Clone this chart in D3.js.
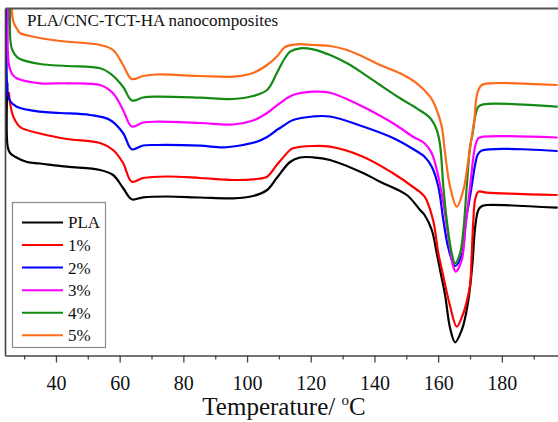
<!DOCTYPE html>
<html><head><meta charset="utf-8">
<script src="https://cdn.jsdelivr.net/npm/d3@7"></script>
<style>
html,body{margin:0;padding:0;background:#fff;}
svg{display:block;}
text{font-family:"Liberation Serif","Times New Roman",serif;fill:#111;}
</style></head>
<body>
<svg id="chart" width="558" height="422"></svg>
<script>
// ---- data (temperature °C, heat flow a.u., endo down) ----
const seriesNames = ["PLA", "1%", "2%", "3%", "4%", "5%"];
const majorTicks = [40, 60, 80, 100, 120, 140, 160, 180];
const minorTicks = [30, 50, 70, 90, 110, 130, 150, 170, 190];
const titleText = "PLA/CNC-TCT-HA nanocomposites";

const pla = [[24.74,272.5],[24.84,208.8],[25.59,202.5],[27.16,198.8],[30.93,193.5],[35.01,192],[43.49,188.8],[53.85,185.5],[57.93,180.5],[61.07,167.5],[63.80,156.2],[67.35,158.2],[74.88,159],[85.24,158],[95.60,157.2],[101.88,159.5],[106.28,165.5],[109.32,177.5],[113.50,193.5],[116.64,198],[120.72,198.2],[126.06,195.5],[136.42,182.5],[141.76,173.8],[150.14,160.5],[154.32,145.5],[155.73,140.5],[157.99,125.5],[159.56,102.2],[160.60,85.5],[162.17,60.5],[163.74,27.5],[165.31,13.2],[167.41,25.5],[168.45,37.5],[169.71,60.5],[170.80,93.5],[171.59,127.5],[172.62,145.5],[173.78,149.5],[175.26,150.5],[197.24,147.8]];
const p1 = [[25.27,262.5],[25.59,252.5],[26.62,238.8],[28.73,228.5],[35.01,222],[43.49,216.5],[53.85,212.5],[57.93,205.5],[61.07,192.5],[63.80,173.8],[67.35,177.5],[74.88,179],[85.24,177.5],[95.60,175.5],[101.88,176.2],[106.28,178.8],[109.32,190.5],[113.50,205.5],[114.44,207.2],[120.72,209.5],[126.06,208.8],[136.42,198.8],[145.84,182.2],[152.12,168.5],[155.73,158.8],[158.40,135.5],[160.06,102.2],[161.54,80.5],[163.74,49.5],[165.84,28.8],[167.92,42.5],[169.08,55.5],[170.02,70.5],[170.55,102.2],[171.05,135.5],[171.59,155.5],[172.62,163.8],[175.26,162.8],[197.24,160.5]];
const p2 = [[24.74,354],[24.84,262.5],[25.59,254.5],[27.69,248.8],[35.01,243.8],[41.29,242.5],[50.71,240.5],[56.99,235.5],[61.07,222.5],[63.80,206.2],[67.35,210],[71.65,210.5],[85.24,209.8],[92.46,208.2],[97.80,210],[103.04,213.8],[106.28,218.5],[109.32,225.5],[110.36,227.5],[114.44,235.5],[120.72,239],[126.06,239],[136.42,229],[145.84,217.5],[152.12,206.5],[155.73,198.8],[157.99,188.8],[160.06,168.8],[161.63,135.5],[163.20,107.5],[165.31,89.5],[167.41,100.5],[168.76,135.5],[170.33,165.5],[171.59,190.5],[172.37,200.5],[173.69,205],[197.24,204.5]];
const p3 = [[25.05,354],[25.15,292.5],[26.22,281.5],[27.69,277.2],[35.01,272.2],[43.49,272.2],[53.85,270.5],[57.93,262.2],[61.07,245.5],[63.80,229],[67.35,233],[71.65,233.8],[85.24,232.5],[95.60,231],[101.88,235],[106.28,242.5],[110.36,252.5],[114.44,260.5],[120.72,263.8],[126.06,262.8],[136.42,248.8],[145.84,232.2],[152.12,218.8],[155.73,212.2],[157.99,202.2],[160.06,178.8],[161.63,152.5],[163.20,118.8],[164.77,88.8],[165.53,83.8],[167.41,95.5],[168.45,125.5],[170.02,168.8],[171.59,208.8],[172.62,217.2],[174.19,218.8],[197.24,218]];
const p4 = [[25.59,354],[25.69,315.5],[26.28,305.5],[27.69,298.8],[28.73,296.5],[35.01,291.5],[43.49,289.5],[53.85,287.2],[56.99,282.2],[61.07,268.8],[63.80,255],[67.35,258],[71.65,258.8],[85.24,257.8],[95.60,256.5],[101.88,259.5],[106.28,265.5],[109.32,282.2],[110.36,288.8],[111.93,297.5],[113.50,303.8],[116.64,307.2],[120.72,306.2],[126.06,300.5],[131.40,292.2],[136.42,282.2],[141.76,270.5],[148.04,257.2],[153.28,247.2],[157.46,237.5],[159.56,225.5],[160.60,210.5],[161.63,168.8],[162.70,135.5],[164.27,102.2],[165.31,92.2],[166.88,102.2],[167.92,125.5],[168.98,168.8],[170.02,208.8],[170.87,222.5],[171.59,238.8],[172.62,248.8],[174.19,251.2],[197.24,248.8]];
const p5 = [[26.12,354],[26.37,337.5],[26.91,331.5],[27.79,326.5],[28.73,322.5],[31.87,319.5],[41.29,314.5],[53.85,310.5],[57.93,305.5],[61.07,290.5],[63.80,276.5],[67.35,279.5],[71.65,281],[85.24,279.5],[95.60,278.8],[101.88,282.5],[106.28,290.5],[109.32,298.8],[111.93,308.5],[115.70,311.2],[120.72,310.5],[126.06,309.5],[131.40,305.5],[136.42,298.8],[141.76,290.5],[148.04,282.2],[153.28,272.2],[157.46,258.8],[159.56,245.5],[161.13,228.8],[162.17,202.5],[163.74,168.8],[165.84,148.8],[167.92,165.5],[169.48,195.5],[170.55,218.8],[171.37,235.5],[171.90,255.5],[172.62,265.5],[173.69,270.5],[176.30,272.2],[197.24,270.5]];

const seriesData = [pla, p1, p2, p3, p4, p5];
const seriesColors = ["#000000", "#ff0000", "#0000ff", "#ff00ff", "#138a13", "#ff6a1a"];

(function draw() {
  const svg = d3.select("#chart");
  const mLeft = 5, mTop = 8, mBottom = 355.5;
  const x = d3.scaleLinear().domain([24, 200]).range([mLeft, mLeft + 176 * 3.185]);
  const y = d3.scaleLinear().domain([0, 347.5]).range([mBottom, mTop]);
  const mRight = x(200);

  svg.append("defs").append("clipPath").attr("id", "plotclip")
    .append("rect").attr("x", mLeft).attr("y", mTop).attr("width", mRight - mLeft).attr("height", mBottom - mTop);

  const line = d3.line().x(d => x(d[0])).y(d => y(d[1])).curve(d3.curveCatmullRom.alpha(0.5));

  const g = svg.append("g").attr("clip-path", "url(#plotclip)");
  seriesData.forEach((s, i) => {
    g.append("path").datum(s).attr("d", line)
      .attr("fill", "none").attr("stroke", seriesColors[i])
      .attr("stroke-width", 2.2).attr("stroke-linejoin", "round").attr("stroke-linecap", "round");
  });

  const frameColor = "#444";
  const xAxis = svg.append("g").attr("transform", `translate(0,${mBottom})`)
    .call(d3.axisBottom(x).tickValues(majorTicks).tickSize(7).tickSizeOuter(0).tickFormat(d3.format("d")));
  xAxis.select(".domain").attr("stroke", frameColor).attr("stroke-width", 1.6);
  xAxis.selectAll(".tick line").attr("stroke", frameColor).attr("stroke-width", 1.3);
  xAxis.selectAll(".tick text").attr("font-size", 20).attr("font-family", "Liberation Serif, serif")
    .attr("fill", "#111").attr("y", 0).attr("dy", "34px");
  const xMinor = svg.append("g").attr("transform", `translate(0,${mBottom})`)
    .call(d3.axisBottom(x).tickValues(minorTicks).tickSize(4).tickSizeOuter(0).tickFormat(""));
  xMinor.select(".domain").remove();
  xMinor.selectAll(".tick line").attr("stroke", frameColor).attr("stroke-width", 1.3);

  const yAxis = svg.append("g").attr("transform", `translate(${mLeft},0)`)
    .call(d3.axisLeft(y).tickValues([]).tickSizeOuter(0));
  yAxis.select(".domain").attr("stroke", frameColor).attr("stroke-width", 1.6);
  const topAxis = svg.append("g").attr("transform", `translate(0,${mTop})`)
    .call(d3.axisTop(x).tickValues([]).tickSizeOuter(0));
  topAxis.select(".domain").attr("stroke", "#555").attr("stroke-width", 1.8);

  svg.append("text").attr("x", 27).attr("y", 26).attr("font-size", 17).text(titleText);

  const xl = svg.append("text").attr("x", 284).attr("y", 415).attr("text-anchor", "middle").attr("font-size", 25);
  xl.append("tspan").text("Temperature/ ");
  xl.append("tspan").attr("font-size", 15).attr("dy", -10).text("o");
  xl.append("tspan").attr("dy", 10).text("C");

  const lg = svg.append("g");
  lg.append("rect").attr("x", 12.5).attr("y", 202.5).attr("width", 93).attr("height", 145)
    .attr("fill", "#fff").attr("stroke", "#8a8a8a").attr("stroke-width", 1.2);
  seriesNames.forEach((n, i) => {
    const yy = 222.5 + i * 22.55;
    lg.append("line").attr("x1", 22).attr("x2", 63).attr("y1", yy).attr("y2", yy)
      .attr("stroke", seriesColors[i]).attr("stroke-width", 2);
    lg.append("text").attr("x", 68).attr("y", yy).attr("dy", "0.35em").attr("font-size", 17).text(n);
  });
})();
</script>
</body></html>
